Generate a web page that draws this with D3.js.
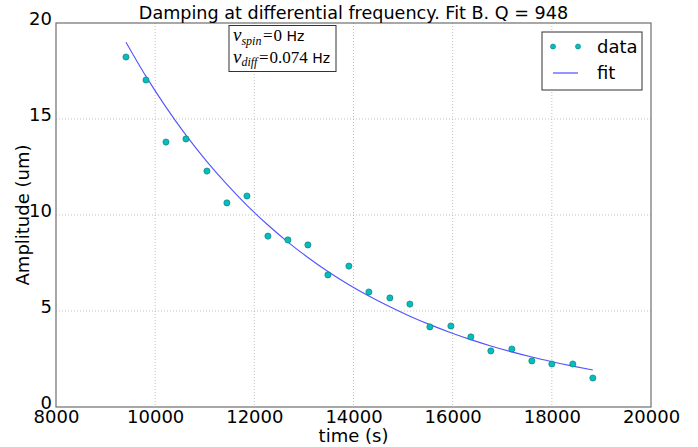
<!DOCTYPE html>
<html><head><meta charset="utf-8">
<script src="https://cdn.jsdelivr.net/npm/d3@7"></script>
<style>
html,body{margin:0;padding:0;background:#fff;}
text{font-family:"DejaVu Sans",sans-serif;fill:#000;}
</style></head>
<body>
<svg id="chart" width="698" height="447"></svg>
<script>
const titleText = "Damping at differential frequency. Fit B. Q = 948";
const xLabel = "time (s)";
const yLabel = "Amplitude (um)";
const times = [9411, 9815, 10218, 10621, 11044, 11447, 11851, 12274, 12677, 13080, 13484, 13907,
               14310, 14734, 15137, 15540, 15964, 16367, 16770, 17194, 17597, 18000, 18423, 18827];
const amplitude = [18.23, 17.03, 13.80, 13.96, 12.29, 10.63, 10.99, 8.90, 8.70, 8.44, 6.88, 7.34,
                   5.99, 5.68, 5.36, 4.17, 4.22, 3.65, 2.92, 3.02, 2.40, 2.24, 2.24, 1.51];
const fitValues = [19.00, 17.22, 15.62, 14.16, 12.78, 11.59, 10.50, 9.48, 8.59, 7.79, 7.06, 6.37,
                   5.78, 5.22, 4.73, 4.29, 3.87, 3.51, 3.18, 2.87, 2.60, 2.36, 2.13, 1.93];
const xTicks = [8000, 10000, 12000, 14000, 16000, 18000, 20000];
const yTicks = [0, 5, 10, 15, 20];
const legendLabels = ["data", "fit"];

const svg = d3.select("#chart");
const L = 56, R = 651, T = 23, B = 407;
const x = d3.scaleLinear().domain([8000, 20000]).range([L, R]);
const y = d3.scaleLinear().domain([0, 20]).range([B, T]);

// grid
const g = svg.append("g");
g.selectAll(".gx").data(xTicks.slice(1, -1)).join("line")
  .attr("x1", d => x(d)).attr("x2", d => x(d)).attr("y1", T).attr("y2", B)
  .attr("stroke", "#b0b0b0").attr("stroke-width", 0.8).attr("stroke-dasharray", "1,2");
g.selectAll(".gy").data(yTicks.slice(1, -1)).join("line")
  .attr("x1", L).attr("x2", R).attr("y1", d => y(d)).attr("y2", d => y(d))
  .attr("stroke", "#b0b0b0").attr("stroke-width", 0.8).attr("stroke-dasharray", "1,2");

// axes using d3 axis
const xAxis = svg.append("g").attr("transform", `translate(0,${B})`)
  .call(d3.axisBottom(x).tickValues(xTicks).tickFormat(d3.format("d")).tickSize(0).tickPadding(3));
const yAxis = svg.append("g").attr("transform", `translate(${L},0)`)
  .call(d3.axisLeft(y).tickValues(yTicks).tickFormat(d3.format("d")).tickSize(0).tickPadding(4));
[xAxis, yAxis].forEach(a => {
  a.select(".domain").remove();
  a.selectAll("text").attr("font-size", 18).attr("font-family", "DejaVu Sans").attr("fill", "#000");
});
yAxis.selectAll("text").attr("dy", "0.1em");
xAxis.selectAll("text").attr("dy", "0.7em");

// frame
svg.append("rect").attr("x", L).attr("y", T).attr("width", R - L).attr("height", B - T)
  .attr("fill", "none").attr("stroke", "#6e6e6e").attr("stroke-width", 1.2);

// fit line
const line = d3.line().x((d, i) => x(times[i])).y(d => y(d)).curve(d3.curveMonotoneX);
svg.append("path").datum(fitValues).attr("d", line)
  .attr("fill", "none").attr("stroke", "#3f3fff").attr("stroke-width", 1.1).attr("opacity", 0.9);

// data points
svg.selectAll(".pt").data(amplitude).join("circle")
  .attr("cx", (d, i) => x(times[i])).attr("cy", d => y(d)).attr("r", 3.1)
  .attr("fill", "#00bfbf").attr("stroke", "#1f6f6f").attr("stroke-width", 0.6);

// title
svg.append("text").attr("x", (L + R) / 2).attr("y", 19).attr("text-anchor", "middle")
  .attr("font-size", 17.6).text(titleText);
// axis labels
svg.append("text").attr("x", (L + R) / 2).attr("y", 442).attr("text-anchor", "middle")
  .attr("font-size", 18).text(xLabel);
svg.append("text").attr("transform", `translate(29,${(T + B) / 2}) rotate(-90)`)
  .attr("text-anchor", "middle").attr("font-size", 18).text(yLabel);

// annotation box
svg.append("rect").attr("x", 229).attr("y", 25.5).attr("width", 107).attr("height", 46)
  .attr("fill", "#fff").attr("stroke", "#333").attr("stroke-width", 1);
const serif = "Liberation Serif";
function mathLine(yy, sub, val) {
  const t = svg.append("text").attr("x", 233).attr("y", yy).attr("font-size", 16);
  t.append("tspan").attr("font-family", serif).attr("font-style", "italic").attr("font-size", 19).text("ν");
  t.append("tspan").attr("font-family", serif).attr("font-style", "italic").attr("font-size", 12).attr("dy", 3.5).text(sub);
  t.append("tspan").attr("font-family", serif).attr("font-size", 17).attr("dy", -3.5).attr("dx", 1.5).text("=");
  t.append("tspan").attr("font-family", serif).attr("font-size", 17).attr("dx", 1).text(val);
  t.append("tspan").attr("font-family", "DejaVu Sans").attr("font-size", 14).text(" Hz");
}
mathLine(41, "spin", "0");
mathLine(62.5, "diff", "0.074");

// legend
svg.append("rect").attr("x", 542).attr("y", 32).attr("width", 100).attr("height", 58)
  .attr("fill", "#fff").attr("stroke", "#333").attr("stroke-width", 1);
svg.selectAll(".lm").data([553, 578]).join("circle")
  .attr("cx", d => d).attr("cy", 46.5).attr("r", 2.6)
  .attr("fill", "#00bfbf").attr("stroke", "#1f6f6f").attr("stroke-width", 0.5);
svg.append("line").attr("x1", 553).attr("x2", 578).attr("y1", 73).attr("y2", 73)
  .attr("stroke", "#3f3fff").attr("stroke-width", 1.1);
svg.append("text").attr("x", 597).attr("y", 53).attr("font-size", 18).text(legendLabels[0]);
svg.append("text").attr("x", 597).attr("y", 79).attr("font-size", 18).text(legendLabels[1]);
</script>
</body></html>
